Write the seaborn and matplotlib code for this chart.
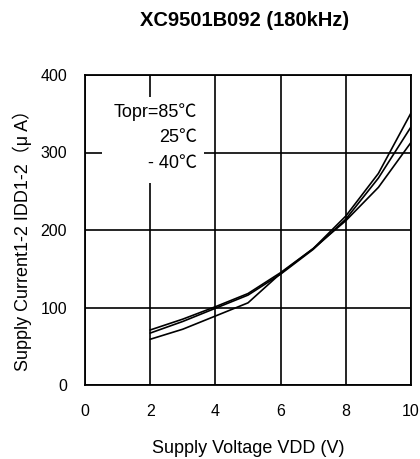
import numpy as np
import pandas as pd
import matplotlib
matplotlib.use("Agg")
import matplotlib.pyplot as plt
import seaborn as sns
from matplotlib.patches import Rectangle

voltage = [2, 3, 4, 5, 6, 7, 8, 9, 10]
curr_85 = [71, 85, 101, 118, 145, 176, 218, 273, 351]
curr_25 = [67, 82, 99, 116, 143, 175, 214, 267, 333]
curr_m40 = [59, 72, 89, 106, 144, 176, 212, 255, 313]
series_names = ["85", "25", "-40"]
legend_lines = ["Topr=85\u2103", "25\u2103", "- 40\u2103"]
x_ticks = [0, 2, 4, 6, 8, 10]
y_ticks = [0, 100, 200, 300, 400]

sns.set_theme(style="white")
plt.rcParams['font.family'] = ['Liberation Sans', 'Noto Sans CJK JP', 'DejaVu Sans']

rows = []
for name, vals in zip(series_names, [curr_85, curr_25, curr_m40]):
    for v, c in zip(voltage, vals):
        rows.append({"V": v, "I": c, "T": name})
df = pd.DataFrame(rows)

fig = plt.figure(figsize=(4.2, 4.59), dpi=100)
ax = fig.add_axes([85/420, 1-385/459, 326/420, 310/459])

ax.set_xlim(0, 10)
ax.set_ylim(0, 400)
ax.set_xticks(x_ticks)
ax.set_yticks(y_ticks)
ax.grid(True, color="black", linewidth=1.2)
ax.set_axisbelow(True)
for s in ax.spines.values():
    s.set_color("black")
    s.set_linewidth(1.3)
ax.tick_params(axis="both", length=0, labelsize=11.5, colors="black")
ax.tick_params(axis="x", pad=14)
ax.tick_params(axis="y", pad=13)

sns.lineplot(data=df, x="V", y="I", hue="T", palette=["black"]*3,
             linewidth=1.2, legend=False, ax=ax, zorder=3)

ax.add_patch(Rectangle((0.52, 261), 3.13, 111, facecolor="white",
                       edgecolor="none", zorder=2))
for txt, yv in zip(legend_lines, [352, 320, 286]):
    ax.text(3.45, yv, txt, ha="right", va="center", fontsize=13,
            color="black", zorder=4)

ax.set_xlabel("Supply Voltage VDD (V)", fontsize=13, color="black", labelpad=15)
ax.set_ylabel("Supply Current1-2 IDD1-2\uff08\u03bc A\uff09", fontsize=13,
              color="black")
ax.yaxis.set_label_coords(-0.163, 0.48)
fig.text(245/420, 1-20/459, "XC9501B092 (180kHz)", ha="center", va="center",
         fontsize=14.5, fontweight="bold", color="black")

fig.savefig("out.png", dpi=100, facecolor="white")
